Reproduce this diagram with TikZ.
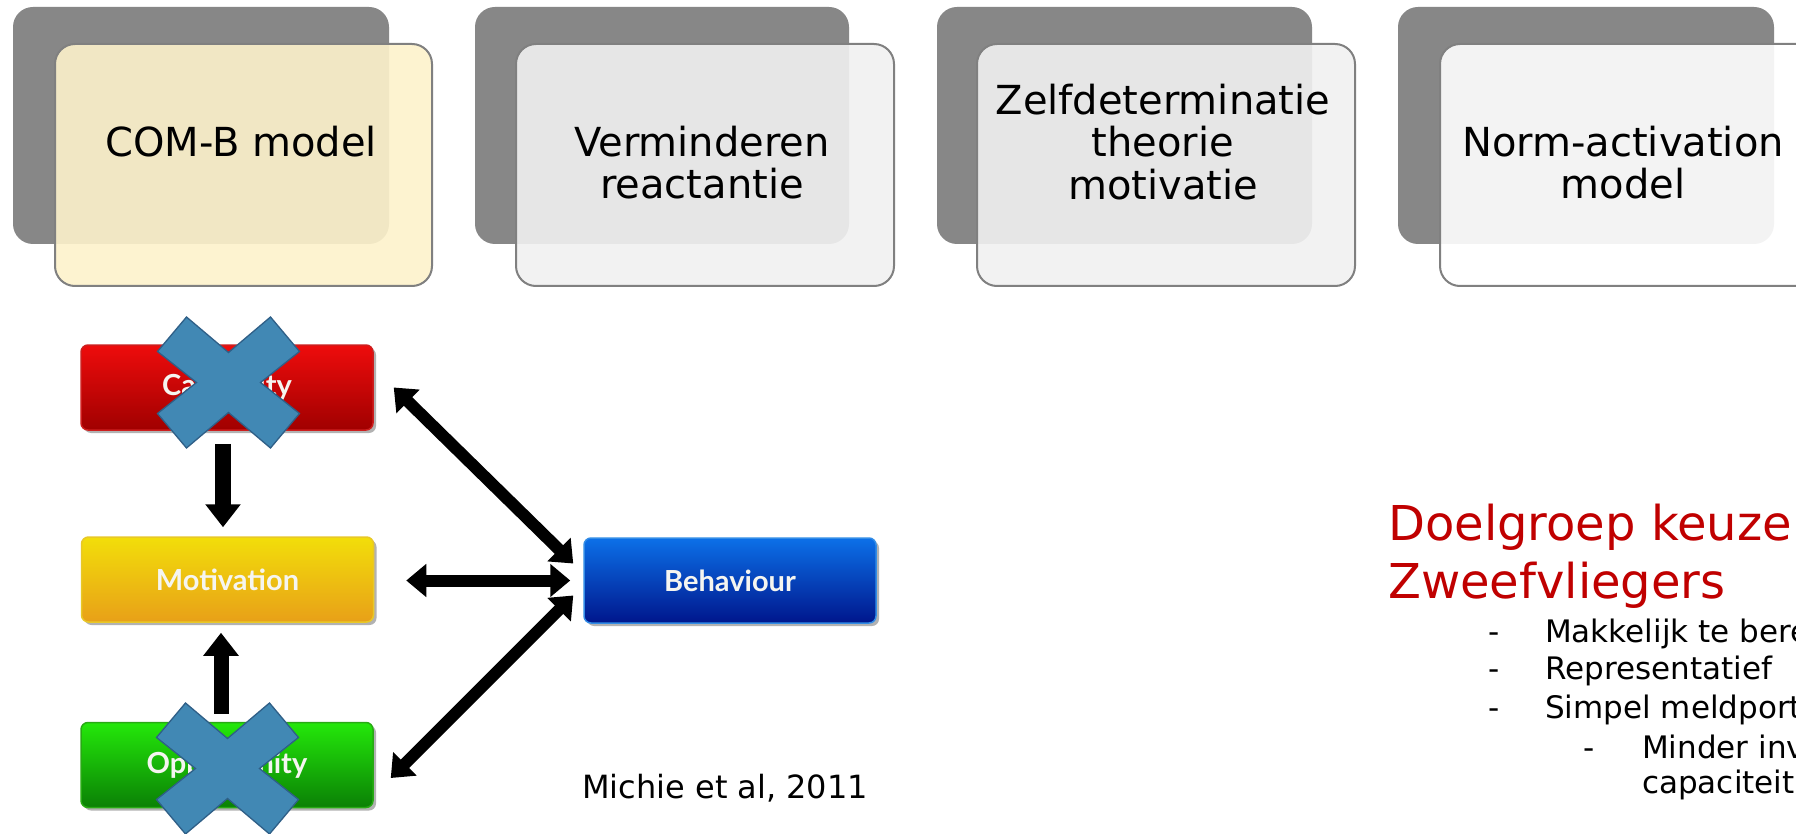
\documentclass[tikz,border=0pt]{standalone}
\usepackage{fontspec}
\setmainfont{DejaVu Sans}
\newfontfamily\boxfont{Lato}
\usetikzlibrary{arrows.meta}
\definecolor{backgray}{RGB}{135,135,135}
\definecolor{bordergray}{RGB}{128,128,128}
\definecolor{frontyellow}{RGB}{253,242,203}
\definecolor{frontgray}{RGB}{241,241,241}
\definecolor{crossfill}{RGB}{65,136,180}
\definecolor{crossline}{RGB}{47,95,135}
\definecolor{headred}{RGB}{192,0,0}
\definecolor{boxtext}{RGB}{245,245,240}
\definecolor{redtop}{RGB}{238,12,12}
\definecolor{redbot}{RGB}{160,0,0}
\definecolor{redline}{RGB}{205,30,30}
\definecolor{yeltop}{RGB}{242,222,10}
\definecolor{yelbot}{RGB}{232,160,24}
\definecolor{yelline}{RGB}{232,200,40}
\definecolor{grntop}{RGB}{36,232,10}
\definecolor{grnbot}{RGB}{10,128,5}
\definecolor{grnline}{RGB}{40,170,20}
\definecolor{blutop}{RGB}{12,112,232}
\definecolor{blubot}{RGB}{0,22,140}
\definecolor{bluline}{RGB}{50,140,230}
\begin{document}
\begin{tikzpicture}[x=1pt,y=-1pt,
  backbox/.style={fill=backgray, rounded corners=20pt},
  frontbox/.style={draw=bordergray, line width=2pt, rounded corners=20pt, fill opacity=0.9},
  toptext/.style={font=\fontsize{40}{42.5}\selectfont, align=center, inner sep=0pt, text=black},
  combox/.style={minimum width=292pt, minimum height=85pt, rounded corners=7pt, inner sep=0pt,
    line width=1.5pt, text=boxtext, font=\boxfont\bfseries\fontsize{29}{32}\selectfont,
    preaction={fill=black, opacity=0.3, transform canvas={xshift=3pt,yshift=-3pt}}},
  crossstyle/.style={fill=crossfill, draw=crossline, line width=1.3pt, line join=miter},
  xmark/.pic={\path[crossstyle] (-71,-31) -- (-42,-65.5) -- (0,-30) -- (42,-65.5) -- (71,-31) -- (32,0)
      -- (71,31) -- (42,65.5) -- (0,30) -- (-42,65.5) -- (-71,31) -- (-32,0) -- cycle;},
  diagarrow/.style={line width=12pt, {Triangle[length=20pt,width=32pt]}-{Triangle[length=20pt,width=32pt]}},
  vertarrow/.style={line width=16pt, -{Triangle[length=23pt,width=34pt]}},
  redhead/.style={font=\fontsize{48}{58}\selectfont, text=headred, align=left, inner sep=0pt},
  bul/.style={font=\fontsize{31}{37}\selectfont, inner sep=0pt, text=black},
]
\useasboundingbox (0,0) rectangle (1796,834);
\clip (0,0) rectangle (1796,834);
\fill[white] (0,0) rectangle (1796,834);

% ---------- top row of models ----------
\path[backbox] (13,7) rectangle (389,244);
\path[frontbox, fill=frontyellow] (55,44) rectangle (432,286);
\node[toptext, anchor=base] (m1) at (241,157) {COM-B model};

\path[backbox] (475,7) rectangle (849,244);
\path[frontbox, fill=frontgray] (516,44) rectangle (894,286);
\node[toptext, anchor=north] (m2) at (702,125.6) {Verminderen\\reactantie};

\path[backbox] (937,7) rectangle (1312,244);
\path[frontbox, fill=frontgray] (977,44) rectangle (1355,286);
\node[toptext, anchor=north] (m3) at (1163,83.6) {Zelfdeterminatie\\theorie\\motivatie};

\path[backbox] (1398,7) rectangle (1774,244);
\path[frontbox, fill=white] (1440,44) rectangle (1818,286);
\node[toptext, anchor=north] (m4) at (1623,125.6) {Norm-activation\\model};

% ---------- COM-B diagram ----------
\node[combox, draw=redline, top color=redtop, bottom color=redbot] (cap) at (227,387.5) {Capability};
\node[combox, draw=yelline, top color=yeltop, bottom color=yelbot] (mot) at (227.5,579.5) {Motivation};
\node[combox, draw=grnline, top color=grntop, bottom color=grnbot] (opp) at (227,765) {Opportunity};
\node[combox, draw=bluline, top color=blutop, bottom color=blubot] (beh) at (730,580.5) {Behaviour};

\draw[vertarrow] ([xshift=-4pt,yshift=-13pt]cap.south) -- ([xshift=-4.5pt,yshift=9pt]mot.north);
\draw[vertarrow, line width=15pt] ([xshift=-6pt,yshift=8pt]opp.north) -- ([xshift=-6.5pt,yshift=-10pt]mot.south);

\draw[diagarrow] ([xshift=20pt]cap.east) -- ([xshift=-10pt,yshift=17pt]beh.west);
\draw[diagarrow] ([xshift=32pt,yshift=-1pt]mot.east) -- ([xshift=-13pt]beh.west);
\draw[diagarrow] ([xshift=-10pt,yshift=-15pt]beh.west) -- ([xshift=17pt,yshift=-13pt]opp.east);

\pic at (228.5,382.5) {xmark};
\pic at (227.5,768.5) {xmark};

\node[anchor=base west, inner sep=0pt, font=\fontsize{32}{38}\selectfont] (cite) at (582,798) {Michie et al, 2011};

% ---------- target group ----------
\node[redhead, anchor=north west] (goal) at (1388,503.5) {Doelgroep keuze\\Zweefvliegers};

\node[bul, anchor=base west] (d1) at (1488.6,642) {-};
\node[bul, anchor=base west] (b1) at (1545,642) {Makkelijk te bereiken};
\node[bul, anchor=base west] (d2) at (1488.6,679.5) {-};
\node[bul, anchor=base west] (b2) at (1545,679.5) {Representatief};
\node[bul, anchor=base west] (d3) at (1488.6,718) {-};
\node[bul, anchor=base west] (b3) at (1545,718) {Simpel meldportaal};
\node[bul, anchor=base west] (d4) at (1583.6,758) {-};
\node[bul, anchor=north west, align=left, font=\fontsize{31}{35}\selectfont] (b4) at (1642,734.4) {Minder investering\\capaciteit};
\end{tikzpicture}
\end{document}
